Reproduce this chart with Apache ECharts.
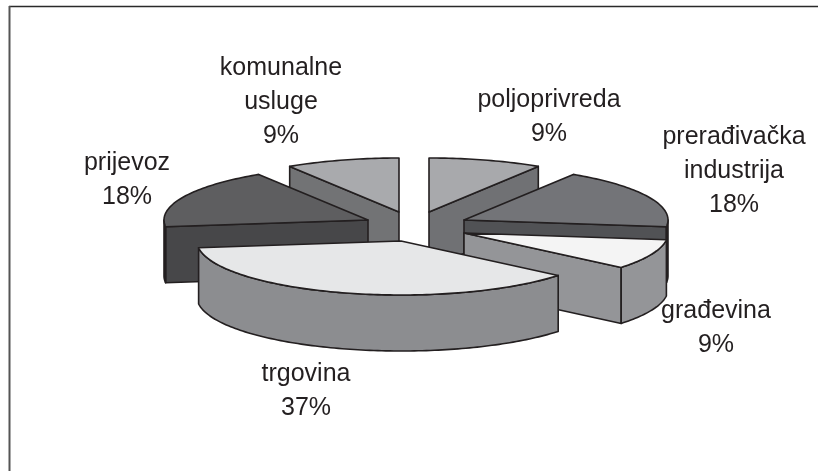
<!DOCTYPE html>
<html><head><meta charset="utf-8">
<style>html,body{margin:0;padding:0;background:#fff}#c{width:818px;height:471px}</style>
<script src="https://cdn.jsdelivr.net/npm/echarts@6/dist/echarts.min.js"></script>
</head><body><div id="c"></div>
<script>
const categories = ['poljoprivreda','prerađivačka industrija','građevina','trgovina','prijevoz','komunalne usluge'];
const shares = [9, 18, 9, 37, 18, 9];

// layout and styling, per slice
const apex = [[429,212],[464,220],[464,233],[401,241],[368,220],[399,212]];
const labelCenter = [[549,117],[734,171],[716,328],[306,391],[127,180],[281,102]];
const topColors = ['#a8a9ac','#737478','#f4f4f4','#e6e7e8','#5e5e60','#a9aaad'];
const radialColors = ['#707174','#515255','#949598','#8c8d90','#474749','#727375'];
const outerColors = ['#8c8d90','#515255','#949598','#8c8d90','#474749','#8c8d90'];
const drawOrder = [0,5,1,4,2,3];
const RX = 204, RY = 54, DEPTH = 56, LINE = '#231f20';

const total = shares.reduce((a,b)=>a+b,0);
let acc = 0;
const rows = shares.map((v,i)=>{ const s=acc; acc+=v; return {i, v, s, e:acc}; });
const toAngle = u => u/total*Math.PI*2;

function pt(c,a,dz){ return [c[0]+RX*Math.sin(a), c[1]-RY*Math.cos(a)+(dz||0)]; }
function arc(c,a0,a1,dz){ const n=Math.max(2,Math.ceil(Math.abs(a1-a0)/0.02)); const p=[];
  for(let k=0;k<=n;k++) p.push(pt(c,a0+(a1-a0)*k/n,dz)); return p; }
function poly(points,fill,z){ return {type:'polygon',z2:z,shape:{points},style:{fill,stroke:LINE,lineWidth:1.6,lineJoin:'round'}}; }

const chart = echarts.init(document.getElementById('c'),null,{renderer:'canvas'});
chart.setOption({
  animation:false,
  backgroundColor:'#fff',
  graphic:[
    {type:'line',shape:{x1:9,y1:6.5,x2:818,y2:6.5},style:{stroke:'#2a2a2a',lineWidth:1.5}},
    {type:'line',shape:{x1:9.5,y1:6,x2:9.5,y2:471},style:{stroke:'#555',lineWidth:2}}
  ],
  series:[{
    type:'custom',
    coordinateSystem:'none',
    data:drawOrder.map(i=>[i,rows[i].s,rows[i].e]),
    renderItem(params,api){
      const i=api.value(0), a0=toAngle(api.value(1)), a1=toAngle(api.value(2));
      const c=apex[i], ch=[];
      if(Math.sin(a1)>0) ch.push(poly([c,pt(c,a1),pt(c,a1,DEPTH),[c[0],c[1]+DEPTH]],radialColors[i],1));
      if(Math.sin(a0)<0) ch.push(poly([c,pt(c,a0),pt(c,a0,DEPTH),[c[0],c[1]+DEPTH]],radialColors[i],1));
      const f0=Math.max(a0,Math.PI/2), f1=Math.min(a1,Math.PI*1.5);
      if(f1>f0) ch.push(poly(arc(c,f0,f1).concat(arc(c,f1,f0,DEPTH)),outerColors[i],2));
      ch.push(poly([c].concat(arc(c,a0,a1)),topColors[i],3));
      const name=categories[i];
      ch.push({type:'text',z2:10,style:{
        x:labelCenter[i][0],y:labelCenter[i][1],
        text:name.split(' ').join('\n')+'\n'+shares[i]+'%',
        align:'center',verticalAlign:'middle',
        font:'25px "Liberation Sans"',lineHeight:34,fill:'#231f20'}});
      return {type:'group',children:ch};
    }
  }]
});
</script></body></html>
